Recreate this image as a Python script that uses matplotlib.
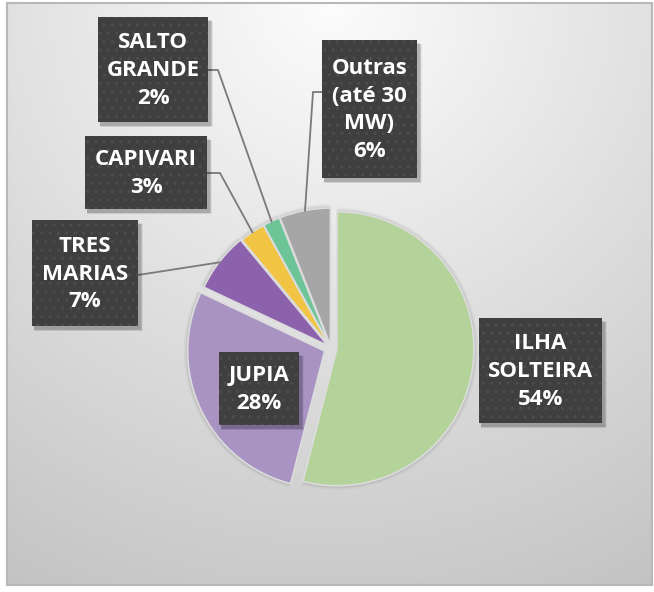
import numpy as np
import matplotlib
matplotlib.use("Agg")
import matplotlib.pyplot as plt
from matplotlib.patches import Rectangle, Wedge

# ---- data ----
categories = ["ILHA\nSOLTEIRA", "JUPIA", "TRES\nMARIAS", "CAPIVARI", "SALTO\nGRANDE", "Outras\n(até 30\nMW)"]
shares = [54, 28, 7, 3, 2, 6]
colors = ["#b3d39a", "#a893c3", "#8c62ad", "#f1c444", "#6dc497", "#a6a6a6"]
explode_px = [6, 7, 4, 3, 3, 3]

W, H = 654, 592
fig = plt.figure(figsize=(W / 100, H / 100), dpi=100)
ax = fig.add_axes([0, 0, 1, 1])

def Y(y_img):
    return H - y_img

# ---- background: radial gradient inside a bordered frame ----
fx0, fx1, fy0, fy1 = 7, 652, 3, 585
xs = np.linspace(fx0, fx1, 400)
ys = np.linspace(fy0, fy1, 400)
XX, YY = np.meshgrid(xs, ys)
d = np.hypot(XX - 330, YY - 0)
b = np.clip(1.0 - 3.4e-4 * d, 0, 1) * 0.99
img = np.dstack([b, b, b])
ax.imshow(img, extent=(fx0, fx1, Y(fy1), Y(fy0)), origin="upper",
          aspect="auto", zorder=0, interpolation="bilinear")
ax.add_patch(Rectangle((fx0, Y(fy1)), fx1 - fx0, fy1 - fy0, fill=False,
                       edgecolor="#b8b8b8", linewidth=1.5, zorder=1))

# ---- pie ----
cx, cy, R = 331, Y(348), 137
wedges, _ = ax.pie(shares, colors=colors, startangle=90, counterclock=False,
                   explode=explode_px, center=(cx, cy), radius=R,
                   wedgeprops=dict(edgecolor="#dcdcdc", linewidth=1.2),
                   frame=True)
for w in wedges:
    w.set_zorder(3)
ax.set_xlim(0, W)
ax.set_ylim(0, H)
ax.set_aspect("auto")
ax.axis("off")

# soft shadow around pie
for k, a in [(8, 0.03), (5, 0.04), (3, 0.05)]:
    for w in wedges:
        sh = Wedge(w.center, w.r + k * 0.5, w.theta1, w.theta2,
                   facecolor="#000000", alpha=a, edgecolor="none", zorder=2)
        ax.add_patch(sh)

def anchor(i, extra=0):
    w = wedges[i]
    th = np.deg2rad(0.5 * (w.theta1 + w.theta2))
    return (w.center[0] + (w.r + extra) * np.cos(th),
            w.center[1] + (w.r + extra) * np.sin(th))

# ---- label boxes (image coords: x0, x1, y0, y1) ----
boxes = [
    (479, 602, 318, 423),
    (219, 299, 352, 425),
    (32, 138, 220, 326),
    (85, 207, 136, 209),
    (98, 208, 17, 122),
    (322, 417, 40, 178),
]

# leader lines (box side point, elbow)
line_color = "#7a7a7a"
leaders = {
    2: [(138, 275)],
    3: [(207, 173), (220, 173)],
    4: [(208, 70), (218, 70)],
    5: [(322, 92), (313, 92)],
}
for i, pts in leaders.items():
    ax_, ay_ = anchor(i, -1)
    xs_l = [p[0] for p in pts] + [ax_]
    ys_l = [Y(p[1]) for p in pts] + [ay_]
    ax.plot(xs_l, ys_l, color=line_color, linewidth=1.3, zorder=4,
            solid_capstyle="butt")

for i, (x0, x1, y0, y1) in enumerate(boxes):
    w_, h_ = x1 - x0, y1 - y0
    # shadow
    for k, a in [(5, 0.05), (4, 0.06), (3, 0.08), (2, 0.1)]:
        ax.add_patch(Rectangle((x0 + 2, Y(y1) - 3 - k * 0.4), w_ + k * 0.6, h_ + k * 0.2,
                               facecolor="#000000", alpha=a, edgecolor="none", zorder=5))
    ax.add_patch(Rectangle((x0, Y(y1)), w_, h_, facecolor="#3f3f3f",
                           edgecolor="#4d4d4d", linewidth=0, hatch="..", zorder=6))
    label = f"{categories[i]}\n{shares[i]}%"
    ax.text((x0 + x1) / 2, Y((y0 + y1) / 2) - 1, label, ha="center", va="center",
            multialignment="center", color="white", fontsize=16, fontweight="bold",
            family=["Open Sans", "DejaVu Sans"], linespacing=1.42, zorder=7)

fig.savefig("out.png", dpi=100)
